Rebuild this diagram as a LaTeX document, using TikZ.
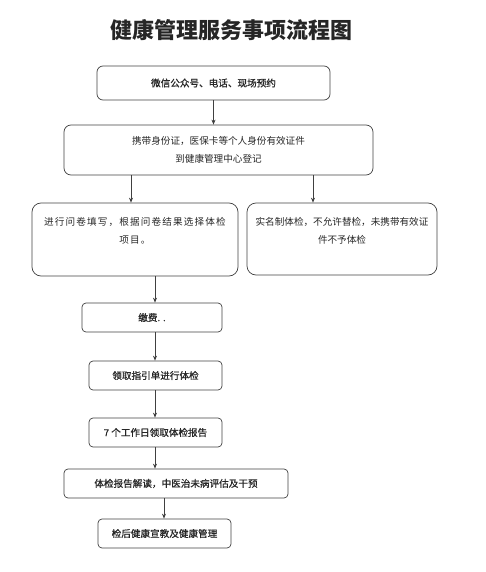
\documentclass[tikz,border=0pt]{standalone}
\usepackage{fontspec}
\usetikzlibrary{arrows.meta}
\newfontfamily\cjk{Noto Sans CJK SC}
\newfontfamily\cjkmed[FakeBold=0.8]{Noto Sans CJK SC}
\newfontfamily\cjkwide[LetterSpace=12]{Noto Sans CJK SC}
\tikzset{
  stepbox/.style={draw=black!75,line width=0.7pt,rounded corners=4pt,inner sep=0pt,
    align=center,text=black!85,font=\cjk\fontsize{9.6}{18}\selectfont},
  medbox/.style={stepbox,font=\cjkmed\fontsize{9.6}{18}\selectfont},
  bigbox/.style={stepbox,rounded corners=9pt},
  arr/.style={-{Stealth[length=5pt,width=4pt]},line width=0.7pt,black!75}
}
\begin{document}
\begin{tikzpicture}[x=1pt,y=-1pt]
\useasboundingbox (0,0) rectangle (485,572);
\node[font=\cjk\bfseries\fontsize{22}{24}\selectfont,text=black!85] (title) at (231,30) {健康管理服务事项流程图};
% booking and registration
\node[medbox,rounded corners=6pt,minimum width=233,minimum height=34] (b1) at (213.5,83) {微信公众号、电话、现场预约};
\node[stepbox,rounded corners=7pt,minimum width=309,minimum height=50] (b2) at (218.5,150) {携带身份证，医保卡等个人身份有效证件\\到健康管理中心登记};
\node[bigbox,minimum width=206,minimum height=73,font=\cjkwide\fontsize{9.6}{18}\selectfont] (b3l) at (135,239.5) {进行问卷填写，根据问卷结果选择体检\\项目。\\ \mbox{}};
\node[bigbox,minimum width=190,minimum height=72] (b3r) at (342,239) {实名制体检，不允许替检，未携带有效证\\件不予体检\\ \mbox{}};
% examination steps
\node[medbox,minimum width=140,minimum height=29] (b4) at (152,317.5) {缴费. .};
\node[medbox,minimum width=133,minimum height=29] (b5) at (155.5,375.5) {领取指引单进行体检};
\node[medbox,minimum width=133,minimum height=29] (b6) at (155.5,432.5) {7 个工作日领取体检报告};
\node[medbox,minimum width=224,minimum height=29] (b7) at (176,483.5) {体检报告解读，中医治未病评估及干预};
\node[medbox,minimum width=133,minimum height=29] (b8) at (164.5,533.5) {检后健康宣教及健康管理};
\coordinate (cl) at (131,0);
\coordinate (cr) at (313,0);
\coordinate (cm) at (155,0);
\coordinate (cn) at (164,0);
\draw[arr] (b1.south) -- (b2.north -| b1.south);
\draw[arr] (b2.south -| cl) -- (b3l.north -| cl);
\draw[arr] (b2.south -| cr) -- (b3r.north -| cr);
\draw[arr] (b3l.south -| cm) -- (b4.north -| cm);
\draw[arr] (b4.south -| cm) -- (b5.north -| cm);
\draw[arr] (b5.south -| cm) -- (b6.north -| cm);
\draw[arr] (b6.south -| cm) -- (b7.north -| cm);
\draw[arr] (b7.south -| cn) -- (b8.north -| cn);
\end{tikzpicture}
\end{document}
